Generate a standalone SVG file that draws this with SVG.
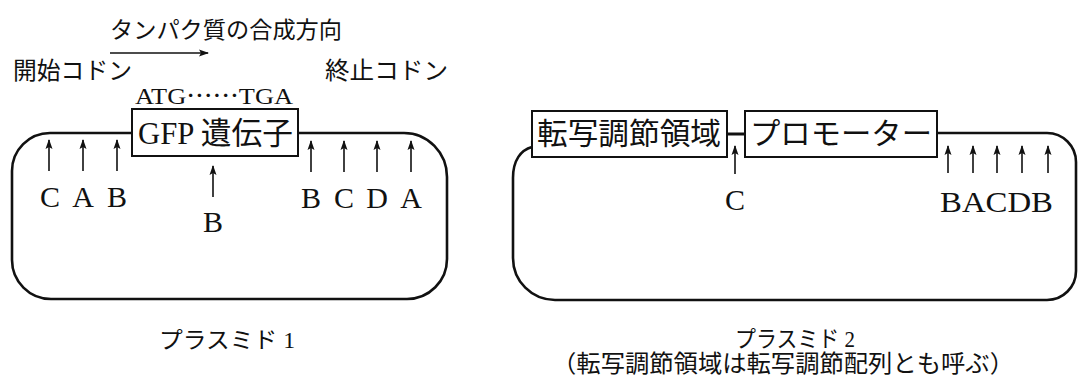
<svg xmlns="http://www.w3.org/2000/svg" width="1078" height="380" viewBox="0 0 1078 380" xml:lang="ja">
<defs>
<style>
.jp{font-family:"Liberation Serif","Noto Sans CJK JP",serif;fill:#111;}
.cjk{font-family:"Noto Sans CJK JP",sans-serif;}
.lt{font-family:"Liberation Serif","Noto Sans CJK JP",serif;fill:#111;font-size:30px;text-anchor:middle;}
.loop{fill:none;stroke:#111;stroke-width:2.6;}
.box{fill:#fff;stroke:#111;stroke-width:2;}
.arr{stroke:#111;stroke-width:1.6;fill:none;marker-end:url(#ah);}
</style>
<marker id="ah" viewBox="0 0 10 8" refX="9" refY="4" markerUnits="userSpaceOnUse" markerWidth="11" markerHeight="8" orient="auto">
<path d="M0,0.5 L10,4 L0,7.5 L2,4 Z" fill="#111"/>
</marker>
</defs>
<rect width="1078" height="380" fill="#fff"/>

<g id="title">
<text class="jp" x="110" y="38" font-size="23" textLength="232" lengthAdjust="spacingAndGlyphs">タンパク質の合成方向</text>
<line x1="110" y1="53" x2="208" y2="53" class="arr"/>
<text class="jp" x="13" y="79" font-size="24" textLength="119" lengthAdjust="spacingAndGlyphs">開始コドン</text>
<text class="jp" x="325" y="79" font-size="24" textLength="123" lengthAdjust="spacingAndGlyphs">終止コドン</text>
<text class="jp" x="135" y="104" font-size="24" textLength="158" lengthAdjust="spacingAndGlyphs">ATG<tspan class="cjk" xml:lang="ja">……</tspan>TGA</text>
</g>

<g id="plasmid1">
<path class="loop" d="M132,133 L50,133 A38 38 0 0 0 12,171 L12,260 A39 39 0 0 0 51,299 L407,299 A40 40 0 0 0 447,259 L447,177 A43 44 0 0 0 404,133 L298,133"/>
<g id="gfp">
<rect class="box" x="132" y="109" width="166" height="47"/>
<text class="jp" x="138" y="144" font-size="31" textLength="155" lengthAdjust="spacingAndGlyphs">GFP 遺伝子</text>
</g>
<text class="jp" x="159" y="348" font-size="23" textLength="136" lengthAdjust="spacingAndGlyphs">プラスミド 1</text>
</g>

<g id="plasmid2">
<path class="loop" d="M532,147 C521,150 513,160 513,178 L513,258 A42 42 0 0 0 555,300 L1047,300 A29 29 0 0 0 1076,271 L1076,162 A29 29 0 0 0 1047,133 L937,133"/>
<line x1="727" y1="134" x2="745" y2="134" stroke="#111" stroke-width="3"/>
<g id="tenshachousetsu">
<rect class="box" x="532" y="111" width="195" height="46"/>
<text class="jp" x="537" y="144" font-size="30" textLength="184" lengthAdjust="spacingAndGlyphs">転写調節領域</text>
</g>
<g id="promoter">
<rect class="box" x="745" y="111" width="192" height="46"/>
<text class="jp" x="750" y="144" font-size="30" textLength="182" lengthAdjust="spacingAndGlyphs">プロモーター</text>
</g>
<text class="jp" x="735" y="347" font-size="23" textLength="120" lengthAdjust="spacingAndGlyphs">プラスミド 2</text>
<text class="jp" x="552" y="372" font-size="24" textLength="462" lengthAdjust="spacingAndGlyphs">（転写調節領域は転写調節配列とも呼ぶ）</text>
</g>

<g id="connectors">
<line class="arr" x1="49" y1="171" x2="49" y2="140"/>
<line class="arr" x1="83" y1="171" x2="83" y2="140"/>
<line class="arr" x1="117" y1="171" x2="117" y2="140"/>
<line class="arr" x1="213" y1="197" x2="213" y2="166"/>
<line class="arr" x1="311" y1="172" x2="311" y2="141"/>
<line class="arr" x1="344" y1="172" x2="344" y2="141"/>
<line class="arr" x1="377" y1="172" x2="377" y2="141"/>
<line class="arr" x1="411" y1="172" x2="411" y2="141"/>
<line class="arr" x1="735" y1="174" x2="735" y2="146"/>
<line class="arr" x1="948" y1="173" x2="948" y2="146"/>
<line class="arr" x1="973" y1="173" x2="973" y2="146"/>
<line class="arr" x1="997" y1="173" x2="997" y2="146"/>
<line class="arr" x1="1022" y1="173" x2="1022" y2="146"/>
<line class="arr" x1="1048" y1="173" x2="1048" y2="146"/>
</g>

<g id="labels">
<text class="lt" x="50" y="207">C</text>
<text class="lt" x="83" y="207">A</text>
<text class="lt" x="117" y="207">B</text>
<text class="lt" x="213" y="232">B</text>
<text class="lt" x="311" y="208">B</text>
<text class="lt" x="344" y="208">C</text>
<text class="lt" x="377" y="208">D</text>
<text class="lt" x="411" y="208">A</text>
<text class="lt" x="735" y="210">C</text>
<text class="jp" x="940" y="212" font-size="30" textLength="113" lengthAdjust="spacingAndGlyphs">BACDB</text>
</g>
</svg>
